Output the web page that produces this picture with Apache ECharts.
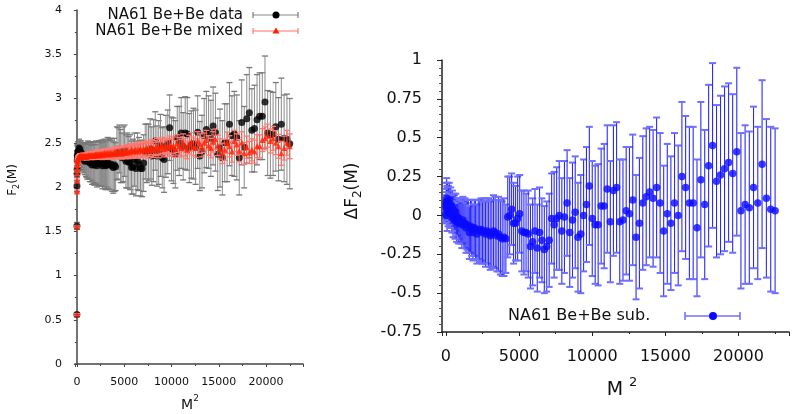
<!DOCTYPE html>
<html><head><meta charset="utf-8">
<script src="https://cdn.jsdelivr.net/npm/echarts@6/dist/echarts.min.js"></script>
<style>html,body{margin:0;padding:0;background:#fff}#c{width:792px;height:414px}</style>
</head><body><div id="c"></div>
<script>
// M^2 values (x positions), M = 1..150
const M2 = [1,4,9,16,25,36,49,64,81,100,121,144,169,196,225,256,289,324,361,400,441,484,529,576,625,676,729,784,841,900,961,1024,1089,1156,1225,1296,1369,1444,1521,1600,1681,1764,1849,1936,2025,2116,2209,2304,2401,2500,2601,2704,2809,2916,3025,3136,3249,3364,3481,3600,3721,3844,3969,4096,4225,4356,4489,4624,4761,4900,5041,5184,5329,5476,5625,5776,5929,6084,6241,6400,6561,6724,6889,7056,7225,7396,7569,7744,7921,8100,8281,8464,8649,8836,9025,9216,9409,9604,9801,10000,10201,10404,10609,10816,11025,11236,11449,11664,11881,12100,12321,12544,12769,12996,13225,13456,13689,13924,14161,14400,14641,14884,15129,15376,15625,15876,16129,16384,16641,16900,17161,17424,17689,17956,18225,18496,18769,19044,19321,19600,19881,20164,20449,20736,21025,21316,21609,21904,22201,22500];

// NA61 Be+Be data : F2(M)
const dataF2 = [0.56,1.56,2.01,2.15,2.20,2.30,2.36,2.35,2.34,2.40,
2.38,2.36,2.41,2.39,2.44,2.38,2.36,2.42,2.37,2.35,
2.39,2.33,2.37,2.36,2.32,2.36,2.31,2.34,2.29,2.33,
2.31,2.30,2.29,2.32,2.30,2.30,2.27,2.30,2.28,2.25,
2.29,2.27,2.25,2.28,2.28,2.24,2.27,2.27,2.27,2.26,
2.27,2.24,2.27,2.27,2.24,2.25,2.28,2.26,2.25,2.26,
2.24,2.22,2.25,2.23,2.38,2.38,2.43,2.35,2.33,2.37,
2.41,2.29,2.30,2.28,2.28,2.22,2.23,2.31,2.21,2.29,
2.26,2.21,2.21,2.27,2.40,2.38,2.39,2.43,2.35,2.41,
2.52,2.35,2.39,2.47,2.33,2.31,2.46,2.51,2.67,2.43,
2.41,2.37,2.55,2.52,2.61,2.46,2.61,2.60,2.44,2.48,
2.49,2.45,2.62,2.35,2.40,2.58,2.65,2.62,2.55,2.69,
2.62,2.37,2.44,2.33,2.50,2.50,2.71,2.58,2.60,2.56,
2.33,2.73,2.45,2.77,2.84,2.64,2.66,2.76,2.80,2.80,
2.96,2.61,2.59,2.60,2.68,2.54,2.71,2.55,2.54,2.49];
const dataErr = [0.02,0.04,0.06,0.08,0.09,0.11,0.12,0.11,0.13,0.11,
0.10,0.09,0.10,0.09,0.10,0.09,0.09,0.10,0.09,0.10,
0.13,0.14,0.13,0.14,0.14,0.14,0.15,0.14,0.15,0.16,
0.19,0.19,0.20,0.20,0.20,0.21,0.21,0.21,0.22,0.22,
0.22,0.23,0.23,0.23,0.24,0.24,0.24,0.25,0.25,0.25,
0.26,0.26,0.26,0.27,0.27,0.27,0.28,0.28,0.28,0.29,
0.29,0.29,0.30,0.27,0.30,0.29,0.27,0.30,0.28,0.31,
0.29,0.30,0.31,0.29,0.31,0.30,0.31,0.30,0.31,0.32,
0.30,0.31,0.32,0.32,0.31,0.33,0.32,0.34,0.33,0.35,
0.33,0.34,0.36,0.35,0.34,0.37,0.35,0.36,0.37,0.36,
0.37,0.38,0.36,0.39,0.40,0.38,0.41,0.41,0.39,0.38,
0.40,0.42,0.41,0.39,0.41,0.42,0.43,0.41,0.43,0.44,
0.44,0.41,0.44,0.42,0.44,0.44,0.47,0.45,0.48,0.48,
0.42,0.48,0.46,0.50,0.51,0.47,0.49,0.51,0.49,0.49,
0.52,0.48,0.49,0.47,0.50,0.47,0.52,0.49,0.51,0.51];

// NA61 Be+Be mixed : F2(M)
const mixedF2 = [0.56,1.55,1.95,2.07,2.15,2.21,2.25,2.28,2.30,2.31,
2.32,2.33,2.33,2.34,2.34,2.34,2.34,2.35,2.34,2.35,
2.34,2.35,2.34,2.35,2.35,2.34,2.35,2.35,2.34,2.35,
2.35,2.34,2.35,2.35,2.36,2.35,2.35,2.36,2.35,2.36,
2.36,2.35,2.36,2.36,2.37,2.36,2.36,2.37,2.36,2.37,
2.37,2.36,2.37,2.38,2.37,2.37,2.38,2.37,2.38,2.38,
2.38,2.37,2.39,2.38,2.39,2.38,2.39,2.40,2.38,2.39,
2.40,2.39,2.41,2.39,2.40,2.42,2.40,2.41,2.42,2.40,
2.42,2.43,2.41,2.43,2.42,2.44,2.41,2.43,2.45,2.42,
2.44,2.46,2.42,2.45,2.47,2.43,2.46,2.44,2.48,2.45,
2.47,2.43,2.49,2.46,2.44,2.50,2.45,2.42,2.48,2.51,
2.46,2.44,2.52,2.49,2.45,2.50,2.53,2.47,2.44,2.51,
2.54,2.47,2.43,2.38,2.42,2.50,2.46,2.40,2.52,2.48,
2.41,2.50,2.38,2.45,2.39,2.42,2.40,2.46,2.46,2.53,
2.55,2.58,2.52,2.55,2.50,2.46,2.38,2.44,2.50,2.46];
const mixedErr = [0.01,0.01,0.015,0.02,0.02,0.02,0.02,0.02,0.02,0.02,
0.02,0.02,0.02,0.02,0.02,0.025,0.025,0.025,0.025,0.025,
0.025,0.025,0.03,0.03,0.03,0.03,0.03,0.03,0.03,0.03,
0.03,0.035,0.035,0.035,0.035,0.035,0.035,0.04,0.04,0.04,
0.04,0.04,0.04,0.04,0.045,0.045,0.045,0.045,0.045,0.05,
0.05,0.05,0.05,0.05,0.05,0.055,0.055,0.055,0.055,0.055,
0.06,0.06,0.06,0.06,0.06,0.06,0.065,0.065,0.065,0.065,
0.065,0.07,0.07,0.07,0.07,0.07,0.075,0.075,0.075,0.075,
0.075,0.08,0.08,0.08,0.08,0.08,0.085,0.085,0.085,0.085,
0.085,0.09,0.09,0.09,0.09,0.09,0.09,0.095,0.095,0.095,
0.095,0.095,0.1,0.1,0.1,0.1,0.1,0.1,0.105,0.105,
0.105,0.105,0.105,0.11,0.11,0.11,0.11,0.11,0.11,0.115,
0.115,0.115,0.115,0.115,0.12,0.12,0.12,0.12,0.12,0.12,
0.125,0.125,0.125,0.125,0.125,0.125,0.13,0.13,0.13,0.13,
0.13,0.13,0.135,0.135,0.135,0.135,0.135,0.135,0.14,0.14];

// NA61 Be+Be sub. : ΔF2(M)
const subDF2 = [0.00,0.01,0.06,0.08,0.05,0.09,0.11,0.07,0.04,0.09,
0.06,0.03,0.08,0.05,0.10,0.04,0.02,0.07,0.03,0.00,
0.05,-0.02,0.03,0.01,-0.03,0.02,-0.04,-0.01,-0.05,-0.02,
-0.04,-0.04,-0.06,-0.03,-0.06,-0.05,-0.08,-0.06,-0.07,-0.11,
-0.07,-0.08,-0.11,-0.08,-0.09,-0.12,-0.09,-0.10,-0.09,-0.11,
-0.10,-0.12,-0.10,-0.11,-0.13,-0.12,-0.10,-0.11,-0.13,-0.12,
-0.14,-0.15,-0.14,-0.15,-0.01,0.00,0.04,-0.05,-0.05,-0.02,
0.01,-0.10,-0.11,-0.11,-0.12,-0.20,-0.17,-0.10,-0.21,-0.11,
-0.16,-0.22,-0.20,-0.16,-0.02,-0.06,-0.02,0.00,-0.10,-0.01,
0.08,-0.11,-0.03,0.02,-0.14,-0.12,0.00,0.07,0.19,-0.02,
-0.06,-0.06,0.06,0.06,0.17,-0.04,0.16,0.18,-0.04,-0.03,
0.03,0.01,0.10,-0.14,-0.05,0.08,0.12,0.15,0.11,0.18,
0.08,-0.10,0.01,-0.05,0.08,0.00,0.25,0.18,0.08,0.08,
-0.08,0.23,0.07,0.32,0.45,0.22,0.26,0.30,0.34,0.27,
0.41,0.03,0.07,0.05,0.18,0.08,0.33,0.11,0.04,0.03];
const subErr = [0.03,0.05,0.07,0.09,0.10,0.12,0.13,0.12,0.14,0.12,
0.11,0.10,0.11,0.10,0.11,0.10,0.10,0.11,0.10,0.11,
0.11,0.12,0.11,0.12,0.12,0.12,0.13,0.12,0.13,0.13,
0.14,0.14,0.15,0.15,0.15,0.16,0.16,0.16,0.17,0.17,
0.17,0.18,0.18,0.18,0.19,0.19,0.19,0.20,0.20,0.20,
0.21,0.21,0.21,0.22,0.22,0.22,0.23,0.23,0.23,0.24,
0.24,0.24,0.25,0.22,0.26,0.25,0.23,0.26,0.24,0.27,
0.25,0.26,0.27,0.25,0.28,0.27,0.28,0.27,0.28,0.29,
0.27,0.28,0.29,0.30,0.29,0.34,0.33,0.35,0.34,0.36,
0.34,0.35,0.37,0.36,0.35,0.38,0.36,0.37,0.38,0.37,
0.38,0.39,0.37,0.40,0.41,0.39,0.42,0.42,0.40,0.39,
0.41,0.43,0.42,0.40,0.42,0.43,0.44,0.42,0.44,0.45,
0.45,0.42,0.45,0.43,0.45,0.45,0.48,0.46,0.49,0.49,
0.44,0.50,0.48,0.52,0.53,0.49,0.51,0.53,0.51,0.51,
0.54,0.50,0.51,0.49,0.52,0.49,0.54,0.51,0.53,0.53];

const xTickLabels = ['0','5000','10000','15000','20000'];

const FONT = 'DejaVu Sans';
const chart = echarts.init(document.getElementById('c'), null, {renderer:'canvas'});

function pts(vals){ return M2.map((x,i)=>[x, vals[i]]); }
function errs(vals, e){ return M2.map((x,i)=>[x, vals[i]-e[i], vals[i]+e[i]]); }
function errRender(capHalf, lineColor, capColor, lw, cw){
  return function(params, api){
    const x = api.value(0), lo = api.value(1), hi = api.value(2);
    const a = api.coord([x, hi]), b = api.coord([x, lo]);
    return {type:'group', children:[
      {type:'line', shape:{x1:a[0],y1:a[1],x2:b[0],y2:b[1]}, style:{stroke:lineColor, lineWidth:lw}},
      {type:'line', shape:{x1:a[0]-capHalf,y1:a[1],x2:a[0]+capHalf,y2:a[1]}, style:{stroke:capColor, lineWidth:cw}},
      {type:'line', shape:{x1:b[0]-capHalf,y1:b[1],x2:b[0]+capHalf,y2:b[1]}, style:{stroke:capColor, lineWidth:cw}}
    ]};
  };
}
function xFmt(v){ return xTickLabels.indexOf(String(v)) >= 0 ? String(v) : ''; }

const axisCommonL = {
  axisLine:{show:true, lineStyle:{color:'#444', width:1.5}},
  splitLine:{show:false},
  axisTick:{show:true, inside:false, length:3, lineStyle:{color:'#444'}},
  minorTick:{show:true, splitNumber:2, length:2, lineStyle:{color:'#444'}},
  axisLabel:{fontFamily:FONT, fontSize:11, color:'#111'}
};

const option = {
  animation:false,
  backgroundColor:'#fff',
  grid:[
    {left:75, top:10, width:228, height:354},
    {left:442, top:60, width:350, height:272}
  ],
  xAxis:[
    Object.assign({}, axisCommonL, {type:'value', gridIndex:0, min:-200, max:23900,
      axisLabel:{fontFamily:FONT, fontSize:11, color:'#111', margin:13, formatter:xFmt}}),
    {type:'value', gridIndex:1, min:-270, max:23450,
      axisLine:{show:true, onZero:false, lineStyle:{color:'#222', width:1.5}},
      splitLine:{show:false},
      axisTick:{show:true, length:4, lineStyle:{color:'#222'}},
      minorTick:{show:true, splitNumber:2, length:2, lineStyle:{color:'#222'}},
      axisLabel:{fontFamily:FONT, fontSize:16, color:'#111', margin:17, formatter:xFmt}}
  ],
  yAxis:[
    Object.assign({}, axisCommonL, {type:'value', gridIndex:0, min:0, max:4, interval:0.5,
      axisLabel:{fontFamily:FONT, fontSize:11, color:'#111', margin:13}}),
    {type:'value', gridIndex:1, min:-0.75, max:1, interval:0.25,
      axisLine:{show:true, onZero:false, lineStyle:{color:'#222', width:1.5}},
      splitLine:{show:false},
      axisTick:{show:true, length:5, lineStyle:{color:'#222'}},
      minorTick:{show:true, splitNumber:5, length:3, lineStyle:{color:'#555'}},
      axisLabel:{fontFamily:FONT, fontSize:16, color:'#111', margin:20}}
  ],
  series:[
    {type:'custom', name:'data err', xAxisIndex:0, yAxisIndex:0, data:errs(dataF2,dataErr),
      renderItem:errRender(3,'#8a8a8a','#777',1,1.3), encode:{x:0,y:[1,2]}, z:2},
    {type:'scatter', name:'NA61 Be+Be data', xAxisIndex:0, yAxisIndex:0, data:pts(dataF2),
      symbol:'circle', symbolSize:7, itemStyle:{color:'#000'}, z:3},
    {type:'custom', name:'mixed err', xAxisIndex:0, yAxisIndex:0, data:errs(mixedF2,mixedErr),
      renderItem:errRender(3,'#ff5a50','#ff7a70',1,1.3), encode:{x:0,y:[1,2]}, z:4},
    {type:'scatter', name:'NA61 Be+Be mixed', xAxisIndex:0, yAxisIndex:0, data:pts(mixedF2),
      symbol:'triangle', symbolSize:6, itemStyle:{color:'#ff2000'}, z:5},
    {type:'custom', name:'sub err', xAxisIndex:1, yAxisIndex:1, data:errs(subDF2,subErr),
      renderItem:errRender(3.5,'#2a2aff','#6e6eff',1.1,2), encode:{x:0,y:[1,2]}, z:2},
    {type:'scatter', name:'NA61 Be+Be sub.', xAxisIndex:1, yAxisIndex:1, data:pts(subDF2),
      symbol:'circle', symbolSize:7.5, itemStyle:{color:'#0a0aff'}, z:3}
  ],
  graphic:[
    // left legend
    {type:'text', x:243, y:15, style:{text:'NA61 Be+Be data', font:'15px "DejaVu Sans"', fill:'#111', align:'right', verticalAlign:'middle'}},
    {type:'line', shape:{x1:253,y1:15,x2:298,y2:15}, style:{stroke:'#888', lineWidth:1.2}},
    {type:'line', shape:{x1:253,y1:12,x2:253,y2:18}, style:{stroke:'#777', lineWidth:1.2}},
    {type:'line', shape:{x1:298,y1:12,x2:298,y2:18}, style:{stroke:'#777', lineWidth:1.2}},
    {type:'circle', shape:{cx:276,cy:15,r:3.5}, style:{fill:'#000'}},
    {type:'text', x:243, y:31, style:{text:'NA61 Be+Be mixed', font:'15px "DejaVu Sans"', fill:'#111', align:'right', verticalAlign:'middle'}},
    {type:'line', shape:{x1:253,y1:31,x2:298,y2:31}, style:{stroke:'#ff6a60', lineWidth:1.2}},
    {type:'line', shape:{x1:253,y1:28,x2:253,y2:34}, style:{stroke:'#ff7a70', lineWidth:1.2}},
    {type:'line', shape:{x1:298,y1:28,x2:298,y2:34}, style:{stroke:'#ff7a70', lineWidth:1.2}},
    {type:'polygon', shape:{points:[[276,27.5],[279.5,33.5],[272.5,33.5]]}, style:{fill:'#ff2000'}},
    // right legend
    {type:'text', x:508, y:316, style:{text:'NA61 Be+Be sub.', font:'16px "DejaVu Sans"', fill:'#111', align:'left', verticalAlign:'middle'}},
    {type:'line', shape:{x1:685,y1:316,x2:740,y2:316}, style:{stroke:'#2a2aff', lineWidth:1.1}},
    {type:'line', shape:{x1:685,y1:312,x2:685,y2:320}, style:{stroke:'#6e6eff', lineWidth:1.5}},
    {type:'line', shape:{x1:740,y1:312,x2:740,y2:320}, style:{stroke:'#6e6eff', lineWidth:1.5}},
    {type:'circle', shape:{cx:713,cy:316,r:4}, style:{fill:'#0a0aff'}},
    // axis names
    {type:'text', x:13, y:180, rotation:Math.PI/2, style:{text:'{a|F}{s|2}{a|(M)}', align:'center', verticalAlign:'middle',
      rich:{a:{fontFamily:FONT, fontSize:12, lineHeight:16, fill:'#111', verticalAlign:'middle'}, s:{fontFamily:FONT, fontSize:8, fill:'#111', lineHeight:8, verticalAlign:'bottom'}}}},
    {type:'text', x:190, y:403, style:{text:'{a|M}{s|2}', align:'center', verticalAlign:'middle',
      rich:{a:{fontFamily:FONT, fontSize:14, lineHeight:18, fill:'#111', verticalAlign:'bottom'}, s:{fontFamily:FONT, fontSize:9, lineHeight:9, fill:'#111', verticalAlign:'top'}}}},
    {type:'text', x:353, y:191, rotation:Math.PI/2, style:{text:'{a|ΔF}{s|2}{a|(M)}', align:'center', verticalAlign:'middle',
      rich:{a:{fontFamily:FONT, fontSize:17, lineHeight:22, fill:'#111', verticalAlign:'middle'}, s:{fontFamily:FONT, fontSize:12, lineHeight:12, fill:'#111', verticalAlign:'bottom'}}}},
    {type:'text', x:622, y:388, style:{text:'{a|M }{s|2}', align:'center', verticalAlign:'middle',
      rich:{a:{fontFamily:FONT, fontSize:19, lineHeight:24, fill:'#111', verticalAlign:'bottom'}, s:{fontFamily:FONT, fontSize:13, lineHeight:13, fill:'#111', verticalAlign:'top'}}}}
  ]
};
chart.setOption(option);
</script>
</body></html>
